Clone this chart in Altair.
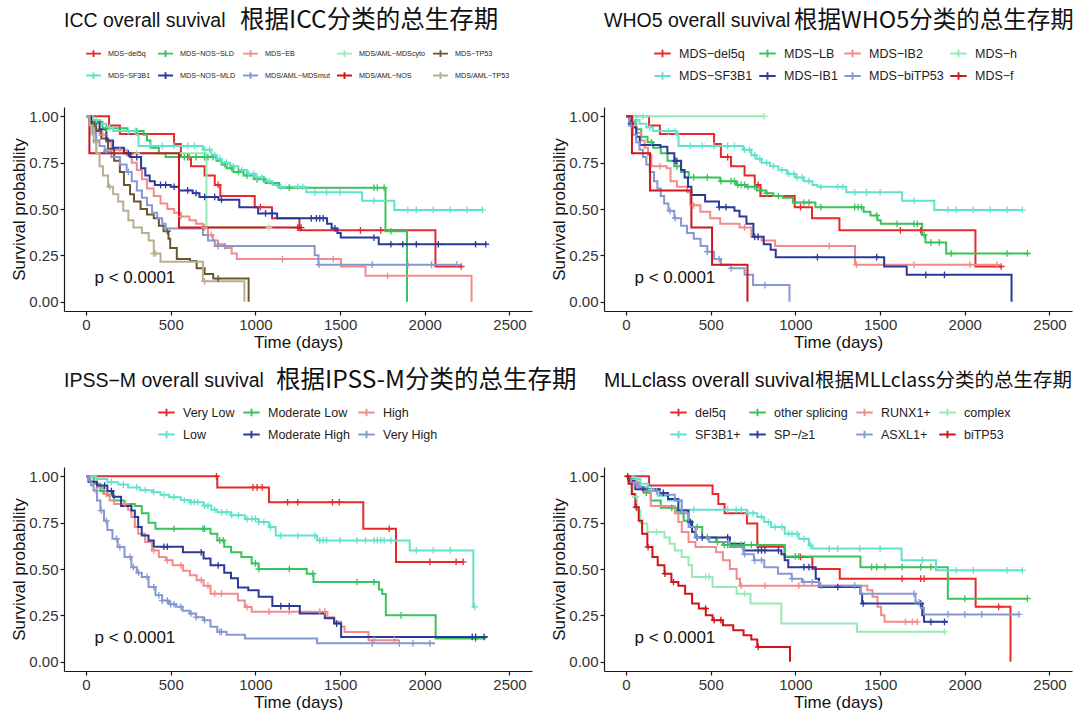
import altair as alt
import pandas as pd

# ---------------- colours ----------------
RED = "#E8282B"; RED2 = "#D0141A"; TURQ = "#63E2CB"; GREEN = "#3AC25C"; SALMON = "#F28B8B"
PALEGREEN = "#95EAB6"; DARKBLUE = "#2B3A98"; LIGHTBLUE = "#8698D2"; BROWN = "#6E5532"; KHAKI = "#B9AE90"

# ---------------- data: KM step points (time, survival), last follow-up, censor times ----------------
DEL5Q = dict(t=[0, 136, 200, 520, 560, 620, 700, 760, 793, 996, 1098, 1260, 2063],
             s=[1.0, 0.95, 0.905, 0.85, 0.78, 0.73, 0.68, 0.63, 0.57, 0.51, 0.45, 0.385, 0.19],
             end=2215, cens=[600, 780, 1030, 1620, 1740, 2215])
SF3B1 = dict(t=[0, 40, 80, 120, 160, 300, 310, 690, 740, 770, 800, 850, 900, 950, 1000, 1050, 1100, 1130, 1300, 1630, 1820],
             s=[1.0, 0.98, 0.96, 0.94, 0.92, 0.90, 0.84, 0.82, 0.79, 0.77, 0.75, 0.73, 0.71, 0.69, 0.67, 0.65, 0.63, 0.62, 0.59, 0.545, 0.495],
             end=2340, cens=[60, 140, 250, 290, 380, 450, 520, 600, 640, 700, 730, 760, 790, 830, 870, 920, 960, 990, 1010,
                             1040, 1080, 1150, 1250, 1280, 1350, 1420, 1500, 1700, 1900, 1950, 2050, 2150, 2250, 2340])
ICC_SLD = dict(t=[0, 40, 97, 245, 340, 360, 380, 430, 470, 770, 800, 830, 870, 930, 990, 1060, 1140, 1768, 1895],
               s=[1.0, 0.97, 0.935, 0.92, 0.90, 0.87, 0.83, 0.80, 0.78, 0.76, 0.74, 0.72, 0.70, 0.68, 0.66, 0.64, 0.615, 0.38, 0.0],
               end=None, cens=[60, 120, 300, 580, 610, 650, 700, 720, 750, 820, 860, 900, 950, 1010, 1050, 1200, 1700, 1720, 1760, 1800])
ICC_MLD = dict(t=[0, 30, 80, 120, 160, 224, 260, 325, 350, 376, 406, 500, 549, 630, 670, 782, 905, 1016, 1128, 1423, 1450, 1484, 1504, 1728],
               s=[1.0, 0.97, 0.93, 0.87, 0.83, 0.80, 0.78, 0.72, 0.68, 0.65, 0.63, 0.62, 0.60, 0.585, 0.565, 0.55, 0.51, 0.476, 0.45, 0.42, 0.395, 0.37, 0.346, 0.31],
               end=2360, cens=[250, 300, 440, 470, 520, 600, 650, 700, 760, 800, 1060, 1100, 1330, 1360, 1380, 1400, 1470, 1700, 1800, 1870, 1950, 2080, 2300, 2360])
ICC_EB = dict(t=[0, 20, 50, 80, 120, 150, 240, 270, 300, 330, 360, 400, 440, 480, 520, 560, 610, 650, 690, 720, 750, 780, 820, 860, 890, 1505, 1650, 2276],
              s=[1.0, 0.97, 0.93, 0.90, 0.86, 0.82, 0.79, 0.75, 0.71, 0.66, 0.61, 0.57, 0.53, 0.50, 0.48, 0.46, 0.44, 0.42, 0.40, 0.36, 0.33, 0.31, 0.29, 0.26, 0.23, 0.19, 0.14, 0.0],
              end=None, cens=[100, 200, 560, 700, 740, 780, 1160, 1460, 1780])
ICC_MDSMUT = dict(t=[0, 20, 40, 60, 80, 110, 150, 200, 240, 270, 300, 330, 360, 390, 420, 450, 470, 690, 720, 760, 1350, 1372],
                  s=[1.0, 0.95, 0.91, 0.87, 0.84, 0.81, 0.78, 0.74, 0.70, 0.65, 0.60, 0.56, 0.52, 0.48, 0.45, 0.42, 0.395, 0.36, 0.33, 0.30, 0.25, 0.20],
                  end=2190, cens=[60, 120, 250, 470, 780, 820, 1375, 1690, 1900, 2040, 2190])
ICC_MDSCYTO = dict(t=[0, 30, 60, 711], s=[1.0, 0.9, 0.8, 0.4], end=1080, cens=[300, 1080])
ICC_AML_NOS = dict(t=[0, 20, 549], s=[1.0, 0.8, 0.4], end=1270, cens=[1250, 1270])
ICC_TP53 = dict(t=[0, 30, 60, 90, 130, 166, 200, 224, 260, 283, 322, 360, 400, 430, 458, 487, 497, 536, 614, 653, 700, 751, 960],
                s=[1.0, 0.96, 0.92, 0.88, 0.825, 0.76, 0.70, 0.63, 0.58, 0.54, 0.50, 0.47, 0.45, 0.41, 0.38, 0.34, 0.29, 0.23, 0.22, 0.18, 0.15, 0.125, 0.0],
                end=None, cens=[50, 480, 780])
ICC_AML_TP53 = dict(t=[0, 20, 45, 61, 80, 100, 130, 160, 190, 220, 250, 280, 330, 370, 400, 440, 690, 935],
                    s=[1.0, 0.95, 0.86, 0.80, 0.73, 0.68, 0.62, 0.58, 0.54, 0.49, 0.44, 0.40, 0.37, 0.33, 0.26, 0.215, 0.11, 0.0],
                    end=None, cens=[60, 140, 400, 410, 700])

WHO_LB = dict(t=[0, 30, 60, 90, 127, 160, 205, 245, 285, 325, 370, 556, 650, 712, 772, 828, 870, 926, 985, 1118, 1402, 1443, 1484, 1504, 1748, 1768, 1890],
              s=[1.0, 0.97, 0.93, 0.89, 0.86, 0.83, 0.80, 0.76, 0.73, 0.70, 0.67, 0.65, 0.63, 0.62, 0.60, 0.585, 0.57, 0.56, 0.535, 0.51, 0.485, 0.465, 0.44, 0.42, 0.36, 0.32, 0.26],
              end=2370, cens=[150, 300, 400, 480, 560, 620, 640, 660, 680, 700, 720, 760, 800, 830, 900, 1000, 1050, 1080, 1150,
                              1350, 1370, 1390, 1480, 1600, 1700, 1720, 1760, 1800, 1850, 1920, 2250, 2370])
WHO_IB1 = dict(t=[0, 20, 40, 61, 81, 203, 244, 285, 325, 346, 366, 386, 467, 549, 640, 670, 711, 752, 813, 854, 884, 1524, 1657, 2276],
               s=[1.0, 0.96, 0.94, 0.89, 0.845, 0.835, 0.80, 0.76, 0.71, 0.67, 0.62, 0.575, 0.54, 0.51, 0.49, 0.46, 0.42, 0.35, 0.31, 0.28, 0.24, 0.19, 0.145, 0.0],
               end=None, cens=[30, 290, 300, 550, 590, 760, 780, 1130, 1480, 1770, 1880])
WHO_IB2 = dict(t=[0, 30, 60, 88, 110, 130, 150, 240, 263, 300, 361, 380, 439, 497, 556, 670, 740, 800, 880, 1352],
               s=[1.0, 0.95, 0.91, 0.87, 0.83, 0.79, 0.73, 0.72, 0.65, 0.62, 0.59, 0.52, 0.485, 0.45, 0.42, 0.40, 0.35, 0.33, 0.30, 0.20],
               end=2190, cens=[200, 400, 700, 780, 1200, 1360, 1700, 2030, 2190])
WHO_BITP53 = dict(t=[0, 20, 40, 60, 80, 100, 120, 140, 165, 185, 205, 225, 250, 285, 325, 360, 400, 440, 480, 520, 560, 620, 700, 750, 965],
                  s=[1.0, 0.95, 0.90, 0.86, 0.82, 0.78, 0.74, 0.70, 0.65, 0.61, 0.57, 0.53, 0.49, 0.45, 0.41, 0.37, 0.34, 0.30, 0.27, 0.23, 0.20, 0.18, 0.145, 0.09, 0.0],
                  end=None, cens=[30, 260, 290, 480, 550, 620, 820])
WHO_H = dict(t=[0], s=[1.0], end=815, cens=[100, 815])
WHO_F = dict(t=[0, 35, 142, 386, 508, 717], s=[1.0, 0.8, 0.6, 0.4, 0.2, 0.0], end=None, cens=[])

IPSS_VL = dict(t=[0, 775, 1080, 1637, 1830], s=[1.0, 0.94, 0.86, 0.717, 0.538], end=2226,
               cens=[770, 985, 1010, 1040, 1190, 1250, 1455, 1495, 1790, 2030, 2185, 2226])
IPSS_LOW = dict(t=[0, 60, 126, 190, 248, 320, 390, 440, 491, 560, 613, 694, 740, 775, 856, 938, 1019, 1080, 1120, 1364, 1911, 2287],
                s=[1.0, 0.985, 0.968, 0.955, 0.94, 0.925, 0.914, 0.90, 0.887, 0.872, 0.86, 0.842, 0.82, 0.806, 0.79, 0.77, 0.753, 0.726, 0.68, 0.654, 0.60, 0.296],
                end=2295, cens=[150, 220, 300, 350, 400, 460, 520, 580, 620, 640, 660, 700, 720, 760, 800, 830, 860, 900, 950, 980, 1000, 1020,
                                1050, 1090, 1150, 1250, 1350, 1380, 1400, 1420, 1500, 1600, 1650, 1700, 1720, 1740, 1760, 1800, 1950, 2050, 2150, 2295])
IPSS_MODLOW = dict(t=[0, 45, 85, 126, 166, 227, 288, 329, 369, 410, 735, 775, 816, 856, 917, 978, 1019, 1303, 1343, 1729, 1749, 1770, 2064],
                   s=[1.0, 0.96, 0.92, 0.896, 0.87, 0.85, 0.84, 0.80, 0.75, 0.717, 0.69, 0.654, 0.62, 0.59, 0.565, 0.53, 0.50, 0.475, 0.43, 0.39, 0.365, 0.25, 0.125],
                   end=2360, cens=[100, 520, 690, 700, 790, 810, 1000, 1020, 1200, 1340, 1600, 1700, 1860, 2300])
IPSS_MODHIGH = dict(t=[0, 14, 65, 126, 160, 207, 268, 288, 308, 329, 369, 400, 572, 694, 735, 816, 856, 897, 958, 1019, 1100, 1262, 1410, 1465, 1506],
                    s=[1.0, 0.97, 0.95, 0.92, 0.89, 0.84, 0.815, 0.78, 0.726, 0.68, 0.654, 0.62, 0.59, 0.556, 0.52, 0.48, 0.45, 0.40, 0.385, 0.35, 0.30, 0.26, 0.235, 0.206, 0.134],
                    end=2370, cens=[110, 150, 460, 480, 680, 780, 1150, 1200, 1480, 2280, 2300, 2350])
IPSS_HIGH = dict(t=[0, 24, 65, 106, 140, 166, 248, 268, 288, 308, 349, 390, 430, 471, 511, 572, 613, 653, 694, 735, 897, 938, 978, 1425, 1465, 1506, 1526, 1668],
                 s=[1.0, 0.97, 0.94, 0.905, 0.87, 0.85, 0.82, 0.78, 0.726, 0.69, 0.645, 0.60, 0.565, 0.547, 0.52, 0.49, 0.466, 0.44, 0.41, 0.367, 0.33, 0.295, 0.27, 0.24, 0.215, 0.19, 0.16, 0.116],
                 end=1850, cens=[120, 230, 400, 480, 560, 680, 720, 760, 800, 950, 1080, 1200, 1380, 1410, 1700, 1820])
IPSS_VH = dict(t=[0, 14, 30, 45, 65, 85, 106, 126, 156, 187, 227, 268, 300, 329, 369, 410, 450, 490, 532, 570, 613, 650, 694, 735, 775, 830, 938, 1364],
               s=[1.0, 0.977, 0.95, 0.923, 0.87, 0.815, 0.76, 0.71, 0.663, 0.618, 0.565, 0.51, 0.48, 0.457, 0.403, 0.358, 0.33, 0.31, 0.296, 0.275, 0.26, 0.24, 0.224, 0.188, 0.161, 0.145, 0.125, 0.099],
               end=2060, cens=[60, 90, 120, 180, 200, 260, 280, 310, 360, 400, 430, 450, 480, 500, 520, 560, 620, 650, 700, 790, 800, 1690, 1850, 1930, 2030])

MLL_DEL5Q = dict(t=[0, 136, 511, 545, 582, 714, 775, 937, 1100, 1262, 2064, 2270],
                 s=[1.0, 0.95, 0.905, 0.85, 0.80, 0.745, 0.62, 0.565, 0.50, 0.448, 0.296, 0.0],
                 end=None, cens=[1030, 1630, 1740, 1760, 2200])
MLL_SF3B1 = dict(t=[0, 45, 85, 130, 187, 248, 329, 714, 775, 816, 856, 937, 1019, 1080, 1100, 1627, 1830],
                 s=[1.0, 0.985, 0.96, 0.93, 0.895, 0.87, 0.82, 0.80, 0.78, 0.753, 0.726, 0.69, 0.663, 0.627, 0.61, 0.547, 0.493],
                 end=2340, cens=[60, 150, 400, 600, 650, 680, 720, 750, 800, 840, 880, 920, 960, 980, 1010, 1050, 1090, 1200, 1250,
                                 1380, 1500, 1750, 1950, 2050, 2250, 2340])
MLL_OTHER = dict(t=[0, 24, 60, 85, 110, 146, 205, 300, 340, 390, 450, 532, 572, 937, 1384, 1900],
                 s=[1.0, 0.985, 0.96, 0.94, 0.91, 0.87, 0.83, 0.80, 0.76, 0.726, 0.67, 0.645, 0.63, 0.568, 0.51, 0.34],
                 end=2370, cens=[120, 270, 420, 480, 540, 580, 600, 640, 680, 700, 740, 780, 1000, 1020, 1450, 1480, 1530, 1630, 1740, 1800, 2000, 2370])
MLL_SP = dict(t=[0, 15, 55, 200, 248, 309, 369, 390, 410, 613, 694, 917, 937, 958, 1120, 1140, 1384, 1394, 1749, 1759],
              s=[1.0, 0.975, 0.93, 0.91, 0.878, 0.815, 0.753, 0.70, 0.67, 0.636, 0.60, 0.58, 0.547, 0.51, 0.448, 0.403, 0.367, 0.314, 0.25, 0.215],
              end=1900, cens=[100, 220, 380, 420, 450, 600, 780, 800, 820, 900, 1050, 1080, 1250, 1400, 1740, 1800, 1880])
MLL_RUNX1 = dict(t=[0, 20, 80, 110, 146, 288, 309, 329, 369, 410, 532, 572, 613, 653, 673, 1425, 1455, 1485, 1506, 1526],
                 s=[1.0, 0.97, 0.93, 0.91, 0.84, 0.80, 0.753, 0.70, 0.645, 0.618, 0.59, 0.547, 0.50, 0.448, 0.41, 0.385, 0.35, 0.296, 0.25, 0.215],
                 end=1720, cens=[60, 680, 820, 1020, 1650, 1690, 1720])
MLL_ASXL1 = dict(t=[0, 30, 70, 120, 200, 288, 329, 369, 410, 491, 613, 694, 755, 816, 897, 978, 1039, 1140, 1384, 1709, 1740, 1759],
                 s=[1.0, 0.96, 0.94, 0.92, 0.90, 0.87, 0.80, 0.726, 0.67, 0.645, 0.618, 0.58, 0.547, 0.51, 0.475, 0.448, 0.43, 0.41, 0.367, 0.32, 0.29, 0.255],
                 end=2320, cens=[60, 180, 420, 700, 760, 800, 980, 1050, 1100, 1150, 1350, 1700, 1730, 1900, 2000, 2100, 2320])
MLL_COMPLEX = dict(t=[0, 20, 40, 65, 85, 126, 227, 258, 288, 329, 369, 390, 511, 653, 735, 917, 1364],
                   s=[1.0, 0.96, 0.89, 0.815, 0.745, 0.70, 0.67, 0.636, 0.60, 0.565, 0.52, 0.457, 0.403, 0.367, 0.314, 0.206, 0.161],
                   end=1890, cens=[60, 180, 470, 490, 700, 1880])
MLL_BITP53 = dict(t=[0, 15, 34, 55, 75, 95, 126, 156, 187, 227, 268, 309, 349, 390, 430, 471, 511, 572, 633, 694, 740, 775, 968],
                  s=[1.0, 0.96, 0.905, 0.833, 0.76, 0.69, 0.618, 0.565, 0.52, 0.475, 0.43, 0.41, 0.367, 0.314, 0.287, 0.25, 0.224, 0.197, 0.17, 0.143, 0.12, 0.08, 0.0],
                  end=None, cens=[10, 60, 130, 230, 280, 470, 520, 560, 780])

MINUS = "\u2212"
# legend order (row-wise) and colours
ICC_GROUPS = [("MDS−del5q", DEL5Q, RED), ("MDS−NOS−SLD", ICC_SLD, GREEN), ("MDS−EB", ICC_EB, SALMON),
              ("MDS/AML−MDScyto", ICC_MDSCYTO, PALEGREEN), ("MDS−TP53", ICC_TP53, BROWN),
              ("MDS−SF3B1", SF3B1, TURQ), ("MDS−NOS−MLD", ICC_MLD, DARKBLUE), ("MDS/AML−MDSmut", ICC_MDSMUT, LIGHTBLUE),
              ("MDS/AML−NOS", ICC_AML_NOS, RED2), ("MDS/AML−TP53", ICC_AML_TP53, KHAKI)]
WHO_GROUPS = [("MDS−del5q", DEL5Q, RED), ("MDS−LB", WHO_LB, GREEN), ("MDS−IB2", WHO_IB2, SALMON), ("MDS−h", WHO_H, PALEGREEN),
              ("MDS−SF3B1", SF3B1, TURQ), ("MDS−IB1", WHO_IB1, DARKBLUE), ("MDS−biTP53", WHO_BITP53, LIGHTBLUE), ("MDS−f", WHO_F, RED2)]
IPSS_GROUPS = [("Very Low", IPSS_VL, RED), ("Moderate Low", IPSS_MODLOW, GREEN), ("High", IPSS_HIGH, SALMON),
               ("Low", IPSS_LOW, TURQ), ("Moderate High", IPSS_MODHIGH, DARKBLUE), ("Very High", IPSS_VH, LIGHTBLUE)]
MLL_GROUPS = [("del5q", MLL_DEL5Q, RED), ("other splicing", MLL_OTHER, GREEN), ("RUNX1+", MLL_RUNX1, SALMON), ("complex", MLL_COMPLEX, PALEGREEN),
              ("SF3B1+", MLL_SF3B1, TURQ), ("SP−/≥1", MLL_SP, DARKBLUE), ("ASXL1+", MLL_ASXL1, LIGHTBLUE), ("biTP53", MLL_BITP53, RED2)]

X_TICKS = [0, 500, 1000, 1500, 2000, 2500]
Y_TICKS = [0, 0.25, 0.5, 0.75, 1.0]
X_DOMAIN = [-130, 2633]
Y_DOMAIN = [-0.05, 1.05]
PV_T, PV_S, PV_LABEL = 50, 0.13, "p < 0.0001"
PW, PH = 468, 204

FONT = "Liberation Sans"
CJK = "Noto Sans CJK SC"
LEG_SYM = "M-1,0H1M0,-0.45V0.45"
CENS_SYM = "M-1,0H1M0,-1V1"
TITLE_Y = -86


def km_tables(groups):
    line_rows, cens_rows = [], []
    for name, d, _ in groups:
        t, s = d["t"], d["s"]
        for ti, si in zip(t, s):
            line_rows.append({"group": name, "t": ti, "s": si})
        end = d.get("end")
        if end is not None and end > t[-1]:
            line_rows.append({"group": name, "t": end, "s": s[-1]})
        for c in d.get("cens", []):
            k = max(i for i, ti in enumerate(t) if ti <= c)
            cens_rows.append({"group": name, "t": c, "s": s[k]})
    return pd.DataFrame(line_rows), pd.DataFrame(cens_rows)


def panel(groups, latin, cjk, cjk_x, cjk_size, leg):
    line_df, cens_df = km_tables(groups)
    order = [g[0] for g in groups]
    cols = [g[2] for g in groups]
    x = alt.X("t:Q", scale=alt.Scale(domain=X_DOMAIN, nice=False, zero=False),
              axis=alt.Axis(values=X_TICKS, format="d", title="Time (days)"))
    y = alt.Y("s:Q", scale=alt.Scale(domain=Y_DOMAIN, nice=False, zero=False),
              axis=alt.Axis(values=Y_TICKS, format=".2f", title="Survival probability"))
    cscale = alt.Scale(domain=order, range=cols)
    lines = alt.Chart(line_df).mark_line(interpolate="step-after", strokeWidth=2).encode(
        x=x, y=y,
        color=alt.Color("group:N", scale=cscale, sort=order, legend=alt.Legend(
            orient="none", legendX=leg["x"], legendY=leg["y"], direction="horizontal",
            columns=leg["cols"], gridAlign="each", title=None, symbolType=LEG_SYM, symbolSize=leg["sym"],
            symbolStrokeWidth=1.9, labelFont=FONT, labelFontSize=leg["fs"], labelColor="#222222",
            columnPadding=leg["cp"], rowPadding=leg["rp"], labelOffset=leg["lo"], padding=0, labelLimit=400)))
    marks = alt.Chart(cens_df).mark_point(shape=CENS_SYM, filled=False, size=45, strokeWidth=1.3, opacity=1).encode(
        x=x, y=y, stroke=alt.Stroke("group:N", scale=cscale, legend=None))
    pv = alt.Chart(pd.DataFrame({"t": [PV_T], "s": [PV_S], "label": [PV_LABEL]})).mark_text(
        align="left", baseline="middle", font=FONT, fontSize=17, color="#111111").encode(x=x, y=y, text="label:N")
    tdf = pd.DataFrame({"latin": [latin], "cjk": [cjk]})
    t1 = alt.Chart(tdf).mark_text(align="left", baseline="middle", font=FONT, fontSize=19.5, color="#111111").encode(
        x=alt.value(0), y=alt.value(TITLE_Y), text="latin:N")
    t2 = alt.Chart(tdf).mark_text(align="left", baseline="middle", font=CJK, fontSize=cjk_size, color="#111111").encode(
        x=alt.value(cjk_x), y=alt.value(TITLE_Y), text="cjk:N")
    return alt.layer(lines, marks, pv, t1, t2).properties(width=PW, height=PH)


p1 = panel(ICC_GROUPS, "ICC overall suvival", "根据ICC分类的总生存期", 176, 24.5,
           dict(x=21, y=-62, cols=5, sym=225, fs=7.2, cp=3, rp=6, lo=6))
p2 = panel(WHO_GROUPS, "WHO5 overall suvival", "根据WHO5分类的总生存期", 190, 23.5,
           dict(x=49, y=-63, cols=4, sym=270, fs=12.5, cp=2, rp=5.5, lo=7))
p3 = panel(IPSS_GROUPS, "IPSS" + MINUS + "M overall suvival", "根据IPSS-M分类的总生存期", 212, 24.5,
           dict(x=93, y=-64, cols=3, sym=270, fs=12.5, cp=4, rp=5, lo=7))
p4 = panel(MLL_GROUPS, "MLLclass overall suvival", "根据MLLclass分类的总生存期", 211, 19.5,
           dict(x=65, y=-64, cols=4, sym=270, fs=12.5, cp=4, rp=5, lo=7))

chart = alt.concat(p1, p2, p3, p4, columns=2, spacing={"row": 156, "column": 72}, bounds="flush")
chart = chart.resolve_scale(color="independent", stroke="independent").resolve_legend(color="independent")
chart = chart.properties(padding={"left": 10, "top": 8, "right": 0, "bottom": 0})
chart = chart.configure_view(stroke=None).configure_axis(
    domainColor="#1a1a1a", domainWidth=1.2, tickColor="#1a1a1a", tickWidth=1.2, tickSize=4,
    labelFont=FONT, labelFontSize=15, labelColor="#333333", labelPadding=2,
    titleFont=FONT, titleFontSize=17, titleFontWeight="normal", titleColor="#111111", grid=False
).configure_axisY(titlePadding=0).configure_axisX(titlePadding=2)

chart.save("out.html", embed_options={"renderer": "svg", "actions": False})
